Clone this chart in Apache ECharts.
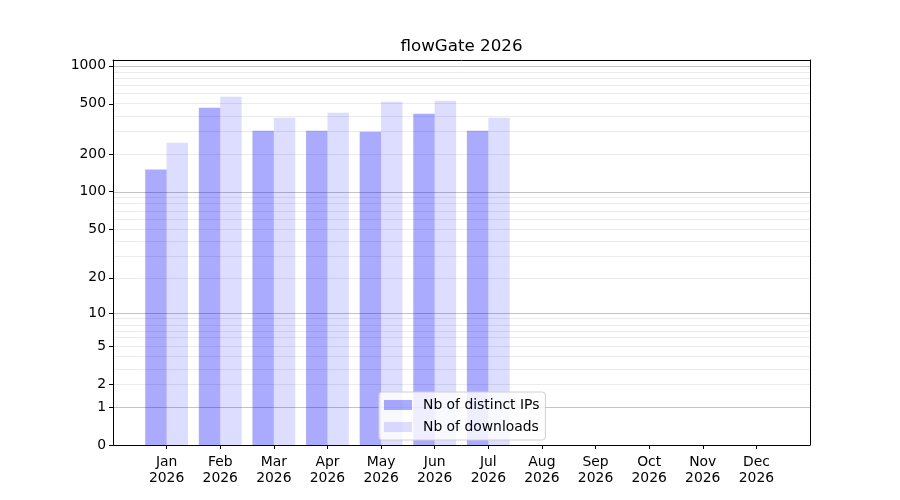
<!DOCTYPE html>
<html>
<head>
<meta charset="utf-8">
<script src="https://cdn.jsdelivr.net/npm/echarts@6/dist/echarts.min.js"></script>
<style>html,body{margin:0;padding:0;background:#fff}#c{width:900px;height:500px}</style>
</head>
<body>
<div id="c"></div>
<script>
const title = 'flowGate 2026';
const months = ['Jan','Feb','Mar','Apr','May','Jun','Jul','Aug','Sep','Oct','Nov','Dec'];
const year = '2026';
const distinctIPs = [150, 465, 305, 305, 300, 417, 305, 0, 0, 0, 0, 0];
const downloads   = [245, 568, 387, 424, 519, 528, 387, 0, 0, 0, 0, 0];
const yTickLabels = [0, 1, 2, 5, 10, 20, 50, 100, 200, 500, 1000];
const majorGrid = [1, 10, 100, 1000];
const minorGrid = [2,3,4,5,6,7,8,9, 20,30,40,50,60,70,80,90, 200,300,400,500,600,700,800,900];
const yTop = 1111;

const t = v => Math.log10(1 + v);
const font = 'DejaVu Sans';
const idx = months.map((m, i) => i);

const chart = echarts.init(document.getElementById('c'), null, {renderer: 'canvas'});
chart.setOption({
  animation: false,
  backgroundColor: '#fff',
  textStyle: {fontFamily: font},
  title: {
    text: title, left: 461.5, textAlign: 'center', top: 38, padding: 0,
    textStyle: {fontFamily: font, fontSize: 16.7, fontWeight: 'normal', color: '#000'}
  },
  grid: {left: 113, right: 90, top: 60, bottom: 55, show: false},
  legend: {
    orient: 'vertical', left: 379, top: 392,
    padding: [5, 6, 5, 5], itemWidth: 28, itemHeight: 10, itemGap: 6,
    backgroundColor: 'rgba(255,255,255,0.8)', borderColor: '#d0d0d0', borderWidth: 1, borderRadius: 3,
    icon: 'rect',
    textStyle: {fontFamily: font, fontSize: 13.9, color: '#000', lineHeight: 16, padding: [0, 0, 0, 6]},
    data: ['Nb of distinct IPs', 'Nb of downloads']
  },
  xAxis: [{
    type: 'value', min: -1, max: 12, position: 'bottom', z: 5,
    axisLine: {show: true, onZero: false, lineStyle: {color: '#000', width: 1}},
    axisTick: {show: true, customValues: idx, length: 4, lineStyle: {color: '#000'}},
    axisLabel: {
      customValues: idx, color: '#000', fontFamily: font, fontSize: 13.9, lineHeight: 16, margin: 9,
      formatter: v => months[Math.round(v)] + '\n' + year
    },
    splitLine: {show: false}
  }, {
    type: 'value', min: -1, max: 12, position: 'top', z: 5,
    axisLine: {show: true, onZero: false, lineStyle: {color: '#000', width: 1}},
    axisTick: {show: false}, axisLabel: {show: false}, splitLine: {show: false}
  }],
  yAxis: [{
    type: 'value', min: 0, max: t(yTop), position: 'left', z: 5,
    axisLine: {show: true, onZero: false, lineStyle: {color: '#000', width: 1}},
    axisTick: {show: true, customValues: yTickLabels.map(t), length: 4, lineStyle: {color: '#000'}},
    axisLabel: {
      customValues: yTickLabels.map(t), color: '#000', fontFamily: font, fontSize: 13.9, margin: 7,
      padding: [4, 0, 0, 0],
      formatter: v => String(Math.round(Math.pow(10, v) - 1))
    },
    splitLine: {show: false}
  }, {
    type: 'value', min: 0, max: t(yTop), position: 'right', z: 5,
    axisLine: {show: true, onZero: false, lineStyle: {color: '#000', width: 1}},
    axisTick: {show: false}, axisLabel: {show: false}, splitLine: {show: false}
  }],
  series: [
    {
      name: 'grid', type: 'line', data: [], z: 0, silent: true,
      markLine: {
        silent: true, symbol: 'none', label: {show: false}, animation: false, z: 0,
        data: minorGrid.map(v => ({yAxis: t(v), lineStyle: {color: '#ebebeb', width: 1, type: 'solid'}}))
          .concat(majorGrid.map(v => ({yAxis: t(v), lineStyle: {color: '#c4c4c4', width: 1, type: 'solid'}})))
      }
    },
    {
      name: 'Nb of distinct IPs', type: 'bar', barWidth: 21.4, barGap: '0%', z: 2,
      itemStyle: {color: 'rgba(0,0,255,0.333)'},
      data: idx.map(i => [i, t(distinctIPs[i])])
    },
    {
      name: 'Nb of downloads', type: 'bar', barWidth: 21.4, barGap: '0%', z: 2,
      itemStyle: {color: 'rgba(0,0,255,0.133)'},
      data: idx.map(i => [i, t(downloads[i])])
    }
  ]
});
</script>
</body>
</html>
